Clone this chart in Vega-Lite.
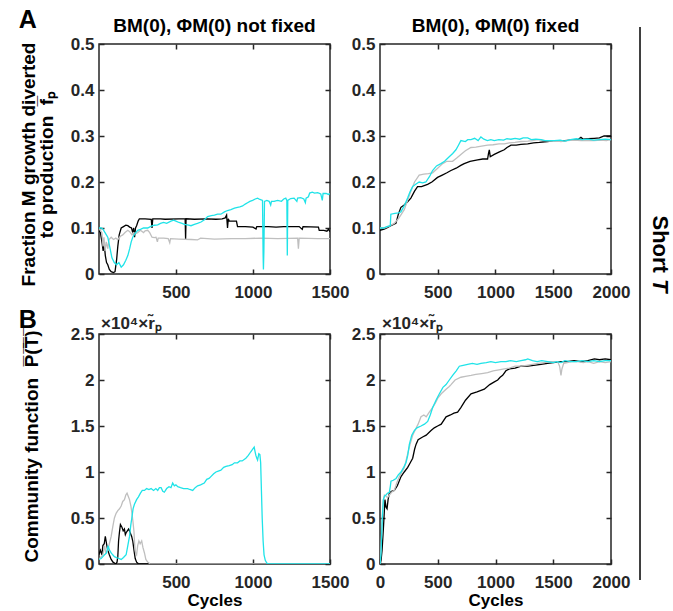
{
"$schema": "https://vega.github.io/schema/vega-lite/v6.json",
"background": "white",
"padding": {"left": 18, "top": 7, "right": 0, "bottom": 0},
"config": {
  "font": "Liberation Sans",
  "view": {"stroke": "#262626", "strokeWidth": 1.5},
  "axis": {"grid": false, "domain": false, "tickColor": "#262626", "tickWidth": 1.5, "tickSize": -5, "labelFont": "Liberation Sans", "labelFontSize": 17, "labelFontWeight": "bold", "labelColor": "#262626", "labelPadding": 10, "titleFont": "Liberation Sans", "titleFontSize": 17, "titleFontWeight": "bold", "titleColor": "#000000", "labelFlush": false, "labelOverlap": false, "labelBound": false},
  "axisX": {"labelPadding": 15}
},
"datasets": {
"tl": [
{"s":"k","x":0,"y":0.095},{"s":"k","x":10,"y":0.09},{"s":"k","x":20,"y":0.07},{"s":"k","x":28,"y":0.05},{"s":"k","x":35,"y":0.065},{"s":"k","x":42,"y":0.04},{"s":"k","x":50,"y":0.025},{"s":"k","x":58,"y":0.02},{"s":"k","x":68,"y":0.01},{"s":"k","x":80,"y":0.005},{"s":"k","x":95,"y":0.003},{"s":"k","x":105,"y":0.005},{"s":"k","x":115,"y":0.03},{"s":"k","x":123,"y":0.06},{"s":"k","x":132,"y":0.085},{"s":"k","x":145,"y":0.1},{"s":"k","x":160,"y":0.103},{"s":"k","x":175,"y":0.106},{"s":"k","x":188,"y":0.105},{"s":"k","x":200,"y":0.102},{"s":"k","x":212,"y":0.1},{"s":"k","x":220,"y":0.09},{"s":"k","x":226,"y":0.1},{"s":"k","x":232,"y":0.08},{"s":"k","x":238,"y":0.1},{"s":"k","x":245,"y":0.105},{"s":"k","x":255,"y":0.115},{"s":"k","x":263,"y":0.12},{"s":"k","x":300,"y":0.12},{"s":"k","x":340,"y":0.119},{"s":"k","x":345,"y":0.1},{"s":"k","x":350,"y":0.12},{"s":"k","x":400,"y":0.12},{"s":"k","x":430,"y":0.119},{"s":"k","x":520,"y":0.12},{"s":"k","x":560,"y":0.12},{"s":"k","x":563,"y":0.075},{"s":"k","x":566,"y":0.12},{"s":"k","x":620,"y":0.119},{"s":"k","x":700,"y":0.12},{"s":"k","x":760,"y":0.119},{"s":"k","x":800,"y":0.12},{"s":"k","x":820,"y":0.122},{"s":"k","x":829,"y":0.128},{"s":"k","x":835,"y":0.1},{"s":"k","x":840,"y":0.12},{"s":"k","x":846,"y":0.115},{"s":"k","x":880,"y":0.115},{"s":"k","x":893,"y":0.115},{"s":"k","x":900,"y":0.103},{"s":"k","x":950,"y":0.103},{"s":"k","x":1000,"y":0.102},{"s":"k","x":1020,"y":0.098},{"s":"k","x":1025,"y":0.103},{"s":"k","x":1100,"y":0.103},{"s":"k","x":1150,"y":0.102},{"s":"k","x":1200,"y":0.103},{"s":"k","x":1300,"y":0.103},{"s":"k","x":1320,"y":0.097},{"s":"k","x":1325,"y":0.103},{"s":"k","x":1425,"y":0.102},{"s":"k","x":1430,"y":0.095},{"s":"k","x":1460,"y":0.095},{"s":"k","x":1480,"y":0.093},{"s":"k","x":1490,"y":0.097},{"s":"k","x":1500,"y":0.092},
{"s":"g","x":0,"y":0.1},{"s":"g","x":10,"y":0.095},{"s":"g","x":20,"y":0.09},{"s":"g","x":27,"y":0.06},{"s":"g","x":33,"y":0.08},{"s":"g","x":40,"y":0.05},{"s":"g","x":48,"y":0.07},{"s":"g","x":58,"y":0.055},{"s":"g","x":66,"y":0.075},{"s":"g","x":80,"y":0.08},{"s":"g","x":95,"y":0.075},{"s":"g","x":110,"y":0.078},{"s":"g","x":123,"y":0.075},{"s":"g","x":140,"y":0.082},{"s":"g","x":155,"y":0.085},{"s":"g","x":170,"y":0.09},{"s":"g","x":188,"y":0.095},{"s":"g","x":200,"y":0.092},{"s":"g","x":215,"y":0.085},{"s":"g","x":225,"y":0.09},{"s":"g","x":240,"y":0.088},{"s":"g","x":252,"y":0.09},{"s":"g","x":270,"y":0.095},{"s":"g","x":290,"y":0.09},{"s":"g","x":300,"y":0.094},{"s":"g","x":317,"y":0.095},{"s":"g","x":330,"y":0.09},{"s":"g","x":345,"y":0.08},{"s":"g","x":360,"y":0.079},{"s":"g","x":371,"y":0.08},{"s":"g","x":380,"y":0.07},{"s":"g","x":385,"y":0.078},{"s":"g","x":420,"y":0.078},{"s":"g","x":450,"y":0.077},{"s":"g","x":460,"y":0.068},{"s":"g","x":465,"y":0.077},{"s":"g","x":520,"y":0.076},{"s":"g","x":600,"y":0.075},{"s":"g","x":640,"y":0.074},{"s":"g","x":660,"y":0.078},{"s":"g","x":750,"y":0.076},{"s":"g","x":860,"y":0.077},{"s":"g","x":950,"y":0.077},{"s":"g","x":1051,"y":0.078},{"s":"g","x":1160,"y":0.077},{"s":"g","x":1290,"y":0.078},{"s":"g","x":1295,"y":0.055},{"s":"g","x":1300,"y":0.078},{"s":"g","x":1420,"y":0.077},{"s":"g","x":1500,"y":0.077},
{"s":"c","x":0,"y":0.1},{"s":"c","x":15,"y":0.1},{"s":"c","x":26,"y":0.098},{"s":"c","x":40,"y":0.09},{"s":"c","x":58,"y":0.08},{"s":"c","x":70,"y":0.06},{"s":"c","x":85,"y":0.035},{"s":"c","x":100,"y":0.025},{"s":"c","x":115,"y":0.02},{"s":"c","x":130,"y":0.025},{"s":"c","x":145,"y":0.015},{"s":"c","x":160,"y":0.02},{"s":"c","x":175,"y":0.03},{"s":"c","x":188,"y":0.04},{"s":"c","x":200,"y":0.055},{"s":"c","x":210,"y":0.07},{"s":"c","x":220,"y":0.08},{"s":"c","x":235,"y":0.088},{"s":"c","x":252,"y":0.095},{"s":"c","x":270,"y":0.097},{"s":"c","x":290,"y":0.1},{"s":"c","x":317,"y":0.1},{"s":"c","x":340,"y":0.104},{"s":"c","x":360,"y":0.106},{"s":"c","x":382,"y":0.107},{"s":"c","x":400,"y":0.11},{"s":"c","x":420,"y":0.112},{"s":"c","x":440,"y":0.11},{"s":"c","x":468,"y":0.115},{"s":"c","x":485,"y":0.117},{"s":"c","x":500,"y":0.115},{"s":"c","x":520,"y":0.112},{"s":"c","x":540,"y":0.11},{"s":"c","x":555,"y":0.108},{"s":"c","x":575,"y":0.107},{"s":"c","x":598,"y":0.105},{"s":"c","x":620,"y":0.108},{"s":"c","x":640,"y":0.11},{"s":"c","x":663,"y":0.113},{"s":"c","x":685,"y":0.118},{"s":"c","x":706,"y":0.125},{"s":"c","x":730,"y":0.127},{"s":"c","x":750,"y":0.128},{"s":"c","x":770,"y":0.13},{"s":"c","x":792,"y":0.13},{"s":"c","x":815,"y":0.135},{"s":"c","x":835,"y":0.138},{"s":"c","x":857,"y":0.14},{"s":"c","x":880,"y":0.143},{"s":"c","x":900,"y":0.145},{"s":"c","x":915,"y":0.146},{"s":"c","x":933,"y":0.148},{"s":"c","x":950,"y":0.152},{"s":"c","x":965,"y":0.155},{"s":"c","x":980,"y":0.158},{"s":"c","x":998,"y":0.16},{"s":"c","x":1015,"y":0.163},{"s":"c","x":1030,"y":0.165},{"s":"c","x":1045,"y":0.162},{"s":"c","x":1062,"y":0.16},{"s":"c","x":1066,"y":0.04},{"s":"c","x":1068,"y":0.01},{"s":"c","x":1071,"y":0.05},{"s":"c","x":1075,"y":0.158},{"s":"c","x":1090,"y":0.16},{"s":"c","x":1105,"y":0.158},{"s":"c","x":1115,"y":0.15},{"s":"c","x":1120,"y":0.158},{"s":"c","x":1137,"y":0.158},{"s":"c","x":1160,"y":0.16},{"s":"c","x":1185,"y":0.158},{"s":"c","x":1200,"y":0.163},{"s":"c","x":1213,"y":0.165},{"s":"c","x":1220,"y":0.16},{"s":"c","x":1223,"y":0.04},{"s":"c","x":1226,"y":0.16},{"s":"c","x":1245,"y":0.164},{"s":"c","x":1267,"y":0.165},{"s":"c","x":1285,"y":0.158},{"s":"c","x":1290,"y":0.165},{"s":"c","x":1310,"y":0.166},{"s":"c","x":1330,"y":0.163},{"s":"c","x":1340,"y":0.155},{"s":"c","x":1345,"y":0.165},{"s":"c","x":1360,"y":0.168},{"s":"c","x":1368,"y":0.176},{"s":"c","x":1385,"y":0.178},{"s":"c","x":1400,"y":0.176},{"s":"c","x":1420,"y":0.177},{"s":"c","x":1440,"y":0.174},{"s":"c","x":1450,"y":0.16},{"s":"c","x":1455,"y":0.175},{"s":"c","x":1475,"y":0.175},{"s":"c","x":1490,"y":0.173},{"s":"c","x":1500,"y":0.175}
],
"tr": [
{"s":"k","x":0,"y":0.095},{"s":"k","x":30,"y":0.097},{"s":"k","x":60,"y":0.1},{"s":"k","x":95,"y":0.105},{"s":"k","x":139,"y":0.11},{"s":"k","x":160,"y":0.13},{"s":"k","x":182,"y":0.145},{"s":"k","x":210,"y":0.15},{"s":"k","x":240,"y":0.157},{"s":"k","x":268,"y":0.165},{"s":"k","x":300,"y":0.18},{"s":"k","x":326,"y":0.19},{"s":"k","x":360,"y":0.19},{"s":"k","x":413,"y":0.195},{"s":"k","x":450,"y":0.2},{"s":"k","x":499,"y":0.21},{"s":"k","x":540,"y":0.215},{"s":"k","x":580,"y":0.22},{"s":"k","x":615,"y":0.225},{"s":"k","x":660,"y":0.23},{"s":"k","x":700,"y":0.236},{"s":"k","x":730,"y":0.24},{"s":"k","x":780,"y":0.245},{"s":"k","x":846,"y":0.248},{"s":"k","x":890,"y":0.25},{"s":"k","x":932,"y":0.25},{"s":"k","x":940,"y":0.262},{"s":"k","x":947,"y":0.27},{"s":"k","x":955,"y":0.255},{"s":"k","x":990,"y":0.26},{"s":"k","x":1030,"y":0.265},{"s":"k","x":1076,"y":0.27},{"s":"k","x":1100,"y":0.275},{"s":"k","x":1134,"y":0.28},{"s":"k","x":1180,"y":0.28},{"s":"k","x":1220,"y":0.282},{"s":"k","x":1279,"y":0.283},{"s":"k","x":1330,"y":0.285},{"s":"k","x":1380,"y":0.286},{"s":"k","x":1452,"y":0.288},{"s":"k","x":1500,"y":0.29},{"s":"k","x":1600,"y":0.29},{"s":"k","x":1650,"y":0.291},{"s":"k","x":1712,"y":0.292},{"s":"k","x":1740,"y":0.297},{"s":"k","x":1760,"y":0.293},{"s":"k","x":1800,"y":0.294},{"s":"k","x":1856,"y":0.295},{"s":"k","x":1900,"y":0.296},{"s":"k","x":1940,"y":0.3},{"s":"k","x":2000,"y":0.3},
{"s":"g","x":0,"y":0.1},{"s":"g","x":40,"y":0.1},{"s":"g","x":80,"y":0.104},{"s":"g","x":124,"y":0.11},{"s":"g","x":160,"y":0.12},{"s":"g","x":211,"y":0.14},{"s":"g","x":240,"y":0.16},{"s":"g","x":268,"y":0.18},{"s":"g","x":300,"y":0.2},{"s":"g","x":340,"y":0.215},{"s":"g","x":380,"y":0.217},{"s":"g","x":420,"y":0.218},{"s":"g","x":456,"y":0.22},{"s":"g","x":500,"y":0.23},{"s":"g","x":543,"y":0.24},{"s":"g","x":580,"y":0.245},{"s":"g","x":629,"y":0.245},{"s":"g","x":665,"y":0.252},{"s":"g","x":701,"y":0.26},{"s":"g","x":740,"y":0.268},{"s":"g","x":788,"y":0.275},{"s":"g","x":830,"y":0.276},{"s":"g","x":880,"y":0.278},{"s":"g","x":932,"y":0.28},{"s":"g","x":980,"y":0.281},{"s":"g","x":1030,"y":0.283},{"s":"g","x":1076,"y":0.283},{"s":"g","x":1120,"y":0.285},{"s":"g","x":1170,"y":0.286},{"s":"g","x":1221,"y":0.288},{"s":"g","x":1280,"y":0.289},{"s":"g","x":1320,"y":0.29},{"s":"g","x":1365,"y":0.292},{"s":"g","x":1420,"y":0.29},{"s":"g","x":1470,"y":0.289},{"s":"g","x":1520,"y":0.29},{"s":"g","x":1567,"y":0.288},{"s":"g","x":1620,"y":0.29},{"s":"g","x":1680,"y":0.291},{"s":"g","x":1740,"y":0.29},{"s":"g","x":1856,"y":0.29},{"s":"g","x":1910,"y":0.291},{"s":"g","x":1960,"y":0.29},{"s":"g","x":2000,"y":0.292},
{"s":"c","x":0,"y":0.1},{"s":"c","x":30,"y":0.1},{"s":"c","x":60,"y":0.103},{"s":"c","x":90,"y":0.105},{"s":"c","x":95,"y":0.13},{"s":"c","x":130,"y":0.132},{"s":"c","x":160,"y":0.133},{"s":"c","x":182,"y":0.135},{"s":"c","x":210,"y":0.148},{"s":"c","x":240,"y":0.165},{"s":"c","x":260,"y":0.178},{"s":"c","x":283,"y":0.19},{"s":"c","x":310,"y":0.195},{"s":"c","x":340,"y":0.2},{"s":"c","x":370,"y":0.198},{"s":"c","x":398,"y":0.2},{"s":"c","x":430,"y":0.212},{"s":"c","x":456,"y":0.225},{"s":"c","x":490,"y":0.235},{"s":"c","x":528,"y":0.24},{"s":"c","x":560,"y":0.245},{"s":"c","x":600,"y":0.255},{"s":"c","x":630,"y":0.262},{"s":"c","x":658,"y":0.27},{"s":"c","x":680,"y":0.28},{"s":"c","x":701,"y":0.29},{"s":"c","x":740,"y":0.288},{"s":"c","x":760,"y":0.292},{"s":"c","x":788,"y":0.292},{"s":"c","x":820,"y":0.295},{"s":"c","x":850,"y":0.29},{"s":"c","x":874,"y":0.298},{"s":"c","x":900,"y":0.293},{"s":"c","x":930,"y":0.29},{"s":"c","x":960,"y":0.292},{"s":"c","x":990,"y":0.29},{"s":"c","x":1030,"y":0.292},{"s":"c","x":1070,"y":0.291},{"s":"c","x":1100,"y":0.294},{"s":"c","x":1134,"y":0.293},{"s":"c","x":1170,"y":0.295},{"s":"c","x":1210,"y":0.293},{"s":"c","x":1240,"y":0.296},{"s":"c","x":1279,"y":0.296},{"s":"c","x":1310,"y":0.292},{"s":"c","x":1350,"y":0.293},{"s":"c","x":1394,"y":0.292},{"s":"c","x":1430,"y":0.29},{"s":"c","x":1509,"y":0.29},{"s":"c","x":1560,"y":0.291},{"s":"c","x":1600,"y":0.289},{"s":"c","x":1650,"y":0.292},{"s":"c","x":1700,"y":0.294},{"s":"c","x":1750,"y":0.292},{"s":"c","x":1800,"y":0.293},{"s":"c","x":1850,"y":0.291},{"s":"c","x":1900,"y":0.292},{"s":"c","x":1950,"y":0.293},{"s":"c","x":2000,"y":0.292}
],
"bl": [
{"s":"k","x":0,"y":0.1},{"s":"k","x":10,"y":0.15},{"s":"k","x":20,"y":0.1},{"s":"k","x":26,"y":0.2},{"s":"k","x":35,"y":0.22},{"s":"k","x":42,"y":0.3},{"s":"k","x":47,"y":0.25},{"s":"k","x":52,"y":0.2},{"s":"k","x":58,"y":0.15},{"s":"k","x":68,"y":0.1},{"s":"k","x":80,"y":0.05},{"s":"k","x":92,"y":0.02},{"s":"k","x":101,"y":0.01},{"s":"k","x":110,"y":0},{"s":"k","x":118,"y":0.02},{"s":"k","x":123,"y":0.08},{"s":"k","x":128,"y":0.25},{"s":"k","x":134,"y":0.35},{"s":"k","x":140,"y":0.43},{"s":"k","x":150,"y":0.4},{"s":"k","x":158,"y":0.36},{"s":"k","x":166,"y":0.38},{"s":"k","x":172,"y":0.32},{"s":"k","x":177,"y":0.34},{"s":"k","x":185,"y":0.36},{"s":"k","x":193,"y":0.38},{"s":"k","x":199,"y":0.36},{"s":"k","x":206,"y":0.33},{"s":"k","x":213,"y":0.3},{"s":"k","x":220,"y":0.25},{"s":"k","x":228,"y":0.15},{"s":"k","x":236,"y":0.06},{"s":"k","x":245,"y":0.02},{"s":"k","x":255,"y":0.005},{"s":"k","x":275,"y":0},{"s":"k","x":800,"y":0},{"s":"k","x":1500,"y":0},
{"s":"g","x":0,"y":0.05},{"s":"g","x":15,"y":0.08},{"s":"g","x":26,"y":0.1},{"s":"g","x":37,"y":0.2},{"s":"g","x":45,"y":0.12},{"s":"g","x":58,"y":0.15},{"s":"g","x":68,"y":0.22},{"s":"g","x":80,"y":0.3},{"s":"g","x":90,"y":0.4},{"s":"g","x":101,"y":0.5},{"s":"g","x":112,"y":0.55},{"s":"g","x":123,"y":0.58},{"s":"g","x":134,"y":0.6},{"s":"g","x":145,"y":0.63},{"s":"g","x":155,"y":0.68},{"s":"g","x":166,"y":0.7},{"s":"g","x":175,"y":0.75},{"s":"g","x":183,"y":0.77},{"s":"g","x":190,"y":0.74},{"s":"g","x":199,"y":0.7},{"s":"g","x":208,"y":0.63},{"s":"g","x":215,"y":0.55},{"s":"g","x":222,"y":0.45},{"s":"g","x":228,"y":0.35},{"s":"g","x":233,"y":0.2},{"s":"g","x":238,"y":0.12},{"s":"g","x":245,"y":0.1},{"s":"g","x":252,"y":0.2},{"s":"g","x":260,"y":0.25},{"s":"g","x":268,"y":0.22},{"s":"g","x":278,"y":0.25},{"s":"g","x":286,"y":0.18},{"s":"g","x":296,"y":0.12},{"s":"g","x":305,"y":0.05},{"s":"g","x":317,"y":0.02},{"s":"g","x":330,"y":0.005},{"s":"g","x":345,"y":0},{"s":"g","x":1000,"y":0},{"s":"g","x":1500,"y":0},
{"s":"c","x":0,"y":0.05},{"s":"c","x":15,"y":0.06},{"s":"c","x":26,"y":0.08},{"s":"c","x":37,"y":0.1},{"s":"c","x":50,"y":0.12},{"s":"c","x":60,"y":0.2},{"s":"c","x":69,"y":0.15},{"s":"c","x":80,"y":0.12},{"s":"c","x":90,"y":0.1},{"s":"c","x":101,"y":0.08},{"s":"c","x":115,"y":0.07},{"s":"c","x":130,"y":0.06},{"s":"c","x":145,"y":0.05},{"s":"c","x":160,"y":0.07},{"s":"c","x":177,"y":0.1},{"s":"c","x":188,"y":0.2},{"s":"c","x":199,"y":0.3},{"s":"c","x":207,"y":0.42},{"s":"c","x":214,"y":0.5},{"s":"c","x":222,"y":0.6},{"s":"c","x":231,"y":0.65},{"s":"c","x":245,"y":0.7},{"s":"c","x":257,"y":0.73},{"s":"c","x":270,"y":0.77},{"s":"c","x":282,"y":0.8},{"s":"c","x":296,"y":0.8},{"s":"c","x":310,"y":0.82},{"s":"c","x":325,"y":0.81},{"s":"c","x":339,"y":0.82},{"s":"c","x":355,"y":0.8},{"s":"c","x":370,"y":0.82},{"s":"c","x":382,"y":0.8},{"s":"c","x":393,"y":0.83},{"s":"c","x":404,"y":0.83},{"s":"c","x":415,"y":0.79},{"s":"c","x":425,"y":0.78},{"s":"c","x":440,"y":0.82},{"s":"c","x":455,"y":0.84},{"s":"c","x":468,"y":0.83},{"s":"c","x":479,"y":0.88},{"s":"c","x":490,"y":0.85},{"s":"c","x":500,"y":0.86},{"s":"c","x":512,"y":0.84},{"s":"c","x":530,"y":0.83},{"s":"c","x":550,"y":0.82},{"s":"c","x":576,"y":0.82},{"s":"c","x":590,"y":0.81},{"s":"c","x":609,"y":0.8},{"s":"c","x":625,"y":0.83},{"s":"c","x":641,"y":0.85},{"s":"c","x":660,"y":0.86},{"s":"c","x":684,"y":0.88},{"s":"c","x":700,"y":0.92},{"s":"c","x":715,"y":0.93},{"s":"c","x":727,"y":0.95},{"s":"c","x":745,"y":0.98},{"s":"c","x":760,"y":1.0},{"s":"c","x":775,"y":1.01},{"s":"c","x":792,"y":1.02},{"s":"c","x":810,"y":1.05},{"s":"c","x":825,"y":1.06},{"s":"c","x":846,"y":1.07},{"s":"c","x":865,"y":1.08},{"s":"c","x":880,"y":1.1},{"s":"c","x":900,"y":1.1},{"s":"c","x":915,"y":1.12},{"s":"c","x":930,"y":1.12},{"s":"c","x":954,"y":1.15},{"s":"c","x":970,"y":1.18},{"s":"c","x":986,"y":1.22},{"s":"c","x":995,"y":1.24},{"s":"c","x":1008,"y":1.27},{"s":"c","x":1014,"y":1.22},{"s":"c","x":1019,"y":1.18},{"s":"c","x":1025,"y":1.15},{"s":"c","x":1030,"y":1.13},{"s":"c","x":1038,"y":1.2},{"s":"c","x":1045,"y":1.19},{"s":"c","x":1050,"y":1.1},{"s":"c","x":1055,"y":0.8},{"s":"c","x":1060,"y":0.5},{"s":"c","x":1066,"y":0.25},{"s":"c","x":1072,"y":0.1},{"s":"c","x":1080,"y":0.04},{"s":"c","x":1090,"y":0.01},{"s":"c","x":1100,"y":0},{"s":"c","x":1500,"y":0}
],
"br": [
{"s":"k","x":0,"y":0},{"s":"k","x":10,"y":0.05},{"s":"k","x":18,"y":0.15},{"s":"k","x":30,"y":0.4},{"s":"k","x":43,"y":0.7},{"s":"k","x":52,"y":0.62},{"s":"k","x":61,"y":0.6},{"s":"k","x":70,"y":0.7},{"s":"k","x":81,"y":0.77},{"s":"k","x":100,"y":0.79},{"s":"k","x":124,"y":0.8},{"s":"k","x":150,"y":0.85},{"s":"k","x":182,"y":0.95},{"s":"k","x":210,"y":1.0},{"s":"k","x":240,"y":1.05},{"s":"k","x":262,"y":1.1},{"s":"k","x":283,"y":1.15},{"s":"k","x":300,"y":1.25},{"s":"k","x":312,"y":1.3},{"s":"k","x":330,"y":1.35},{"s":"k","x":369,"y":1.38},{"s":"k","x":400,"y":1.4},{"s":"k","x":442,"y":1.45},{"s":"k","x":470,"y":1.48},{"s":"k","x":499,"y":1.5},{"s":"k","x":530,"y":1.52},{"s":"k","x":572,"y":1.6},{"s":"k","x":610,"y":1.62},{"s":"k","x":640,"y":1.64},{"s":"k","x":672,"y":1.65},{"s":"k","x":700,"y":1.7},{"s":"k","x":740,"y":1.78},{"s":"k","x":788,"y":1.85},{"s":"k","x":840,"y":1.87},{"s":"k","x":903,"y":1.9},{"s":"k","x":950,"y":1.95},{"s":"k","x":990,"y":1.98},{"s":"k","x":1019,"y":2.0},{"s":"k","x":1040,"y":2.03},{"s":"k","x":1062,"y":2.05},{"s":"k","x":1090,"y":2.1},{"s":"k","x":1120,"y":2.12},{"s":"k","x":1170,"y":2.13},{"s":"k","x":1221,"y":2.15},{"s":"k","x":1280,"y":2.15},{"s":"k","x":1330,"y":2.16},{"s":"k","x":1394,"y":2.17},{"s":"k","x":1450,"y":2.18},{"s":"k","x":1500,"y":2.19},{"s":"k","x":1567,"y":2.2},{"s":"k","x":1620,"y":2.2},{"s":"k","x":1680,"y":2.21},{"s":"k","x":1740,"y":2.2},{"s":"k","x":1800,"y":2.21},{"s":"k","x":1856,"y":2.23},{"s":"k","x":1900,"y":2.22},{"s":"k","x":1950,"y":2.23},{"s":"k","x":2000,"y":2.22},
{"s":"g","x":0,"y":0},{"s":"g","x":10,"y":0.2},{"s":"g","x":18,"y":0.45},{"s":"g","x":23,"y":0.6},{"s":"g","x":30,"y":0.7},{"s":"g","x":38,"y":0.75},{"s":"g","x":50,"y":0.74},{"s":"g","x":65,"y":0.72},{"s":"g","x":81,"y":0.75},{"s":"g","x":100,"y":0.78},{"s":"g","x":124,"y":0.8},{"s":"g","x":145,"y":0.88},{"s":"g","x":168,"y":0.95},{"s":"g","x":190,"y":1.0},{"s":"g","x":211,"y":1.05},{"s":"g","x":225,"y":1.12},{"s":"g","x":240,"y":1.2},{"s":"g","x":260,"y":1.3},{"s":"g","x":283,"y":1.4},{"s":"g","x":310,"y":1.47},{"s":"g","x":330,"y":1.52},{"s":"g","x":355,"y":1.6},{"s":"g","x":380,"y":1.62},{"s":"g","x":400,"y":1.6},{"s":"g","x":427,"y":1.65},{"s":"g","x":455,"y":1.7},{"s":"g","x":480,"y":1.75},{"s":"g","x":499,"y":1.8},{"s":"g","x":530,"y":1.85},{"s":"g","x":572,"y":1.9},{"s":"g","x":600,"y":1.93},{"s":"g","x":615,"y":1.95},{"s":"g","x":650,"y":2.0},{"s":"g","x":701,"y":2.03},{"s":"g","x":740,"y":2.04},{"s":"g","x":788,"y":2.05},{"s":"g","x":830,"y":2.06},{"s":"g","x":880,"y":2.07},{"s":"g","x":932,"y":2.08},{"s":"g","x":980,"y":2.1},{"s":"g","x":1030,"y":2.11},{"s":"g","x":1076,"y":2.12},{"s":"g","x":1120,"y":2.13},{"s":"g","x":1170,"y":2.15},{"s":"g","x":1221,"y":2.15},{"s":"g","x":1270,"y":2.16},{"s":"g","x":1320,"y":2.17},{"s":"g","x":1365,"y":2.18},{"s":"g","x":1420,"y":2.19},{"s":"g","x":1480,"y":2.2},{"s":"g","x":1538,"y":2.2},{"s":"g","x":1555,"y":2.15},{"s":"g","x":1567,"y":2.05},{"s":"g","x":1575,"y":2.12},{"s":"g","x":1590,"y":2.18},{"s":"g","x":1620,"y":2.19},{"s":"g","x":1660,"y":2.2},{"s":"g","x":1712,"y":2.2},{"s":"g","x":1760,"y":2.19},{"s":"g","x":1800,"y":2.2},{"s":"g","x":1850,"y":2.18},{"s":"g","x":1900,"y":2.2},{"s":"g","x":1950,"y":2.19},{"s":"g","x":2000,"y":2.2},
{"s":"c","x":0,"y":0},{"s":"c","x":8,"y":0.1},{"s":"c","x":14,"y":0.3},{"s":"c","x":20,"y":0.5},{"s":"c","x":29,"y":0.7},{"s":"c","x":40,"y":0.74},{"s":"c","x":52,"y":0.75},{"s":"c","x":65,"y":0.77},{"s":"c","x":81,"y":0.78},{"s":"c","x":90,"y":0.85},{"s":"c","x":95,"y":0.9},{"s":"c","x":115,"y":0.91},{"s":"c","x":139,"y":0.93},{"s":"c","x":160,"y":0.97},{"s":"c","x":182,"y":1.0},{"s":"c","x":205,"y":1.05},{"s":"c","x":225,"y":1.1},{"s":"c","x":240,"y":1.18},{"s":"c","x":254,"y":1.3},{"s":"c","x":275,"y":1.4},{"s":"c","x":297,"y":1.45},{"s":"c","x":320,"y":1.48},{"s":"c","x":355,"y":1.5},{"s":"c","x":385,"y":1.52},{"s":"c","x":413,"y":1.55},{"s":"c","x":435,"y":1.62},{"s":"c","x":456,"y":1.7},{"s":"c","x":485,"y":1.78},{"s":"c","x":514,"y":1.85},{"s":"c","x":545,"y":1.92},{"s":"c","x":572,"y":1.95},{"s":"c","x":600,"y":2.0},{"s":"c","x":629,"y":2.05},{"s":"c","x":660,"y":2.1},{"s":"c","x":687,"y":2.15},{"s":"c","x":720,"y":2.16},{"s":"c","x":759,"y":2.17},{"s":"c","x":800,"y":2.18},{"s":"c","x":840,"y":2.17},{"s":"c","x":874,"y":2.18},{"s":"c","x":920,"y":2.19},{"s":"c","x":960,"y":2.2},{"s":"c","x":1000,"y":2.19},{"s":"c","x":1047,"y":2.2},{"s":"c","x":1090,"y":2.2},{"s":"c","x":1130,"y":2.21},{"s":"c","x":1180,"y":2.2},{"s":"c","x":1221,"y":2.21},{"s":"c","x":1260,"y":2.22},{"s":"c","x":1279,"y":2.23},{"s":"c","x":1320,"y":2.21},{"s":"c","x":1360,"y":2.2},{"s":"c","x":1400,"y":2.21},{"s":"c","x":1452,"y":2.2},{"s":"c","x":1500,"y":2.19},{"s":"c","x":1530,"y":2.2},{"s":"c","x":1567,"y":2.19},{"s":"c","x":1600,"y":2.21},{"s":"c","x":1650,"y":2.2},{"s":"c","x":1700,"y":2.2},{"s":"c","x":1750,"y":2.21},{"s":"c","x":1800,"y":2.2},{"s":"c","x":1850,"y":2.21},{"s":"c","x":1900,"y":2.2},{"s":"c","x":1950,"y":2.21},{"s":"c","x":2000,"y":2.21}
]
},
"bounds": "flush",
"columns": 2,
"spacing": {"row": 60, "column": 50},
"concat": [
 {"width": 231, "height": 230,
  "resolve": {"axis": {"x": "independent", "y": "independent"}},
  "layer": [
   {"data": {"name": "tl"}, "mark": {"type": "line", "strokeWidth": 1.3, "clip": true},
    "encoding": {
     "x": {"field": "x", "type": "quantitative", "scale": {"domain": [1, 1500], "nice": false, "zero": false}, "axis": {"values": [500, 1000, 1500], "format": "d", "title": null}},
     "y": {"field": "y", "type": "quantitative", "scale": {"domain": [0, 0.5], "nice": false}, "axis": {"values": [0, 0.1, 0.2, 0.3, 0.4, 0.5], "format": "~g", "title": ["Fraction M growth diverted", "\u00a0\u00a0\u00a0\u00a0\u00a0\u00a0\u00a0\u00a0\u00a0\u00a0\u00a0\u00a0\u00a0\u00a0\u00a0\u00a0\u00a0\u00a0to production\u00a0\u00a0f̅ₚ"], "titleFontSize": 19, "titleAngle": -90, "titleX": -71, "titleY": 120, "titleBaseline": "middle", "titleAlign": "center", "titleLineHeight": 18}},
     "color": {"field": "s", "type": "nominal", "scale": {"domain": ["k", "g", "c"], "range": ["#000000", "#bfbfbf", "#1fe3e8"]}, "legend": null}
    }},
   {"data": {"name": "tl"}, "mark": {"type": "line", "opacity": 0},
    "encoding": {
     "x": {"field": "x", "type": "quantitative", "scale": {"domain": [1, 1500], "nice": false, "zero": false}, "axis": {"orient": "top", "values": [500, 1000, 1500], "labels": false, "title": null}},
     "y": {"field": "y", "type": "quantitative", "scale": {"domain": [0, 0.5], "nice": false}, "axis": {"orient": "right", "values": [0, 0.1, 0.2, 0.3, 0.4, 0.5], "labels": false, "title": null}}
    }},
   {"data": {"values": [{"t": "A"}]}, "mark": {"type": "text", "fontSize": 25, "fontWeight": "bold", "align": "center", "baseline": "middle", "color": "#000000"},
    "encoding": {
     "x": {"datum": -461, "type": "quantitative", "scale": {"domain": [1, 1500], "nice": false, "zero": false}, "axis": null},
     "y": {"datum": 0.552, "type": "quantitative", "scale": {"domain": [0, 0.5], "nice": false}, "axis": null},
     "text": {"field": "t"}
    }},
   {"data": {"values": [{"t": "BM(0), ΦM(0) not fixed"}]}, "mark": {"type": "text", "fontSize": 19, "fontWeight": "bold", "align": "center", "baseline": "alphabetic", "color": "#000000"},
    "encoding": {
     "x": {"datum": 750.5, "type": "quantitative", "scale": {"domain": [1, 1500], "nice": false, "zero": false}, "axis": null},
     "y": {"datum": 0.527, "type": "quantitative", "scale": {"domain": [0, 0.5], "nice": false}, "axis": null},
     "text": {"field": "t"}
    }}
  ]},
 {"width": 231, "height": 230,
  "resolve": {"axis": {"x": "independent", "y": "independent"}},
  "layer": [
   {"data": {"name": "tr"}, "mark": {"type": "line", "strokeWidth": 1.3, "clip": true},
    "encoding": {
     "x": {"field": "x", "type": "quantitative", "scale": {"domain": [1, 2000], "nice": false, "zero": false}, "axis": {"values": [500, 1000, 1500, 2000], "format": "d", "title": null}},
     "y": {"field": "y", "type": "quantitative", "scale": {"domain": [0, 0.5], "nice": false}, "axis": {"values": [0, 0.1, 0.2, 0.3, 0.4, 0.5], "format": "~g", "title": null}},
     "color": {"field": "s", "type": "nominal", "scale": {"domain": ["k", "g", "c"], "range": ["#000000", "#bfbfbf", "#1fe3e8"]}, "legend": null}
    }},
   {"data": {"name": "tr"}, "mark": {"type": "line", "opacity": 0},
    "encoding": {
     "x": {"field": "x", "type": "quantitative", "scale": {"domain": [1, 2000], "nice": false, "zero": false}, "axis": {"orient": "top", "values": [500, 1000, 1500, 2000], "labels": false, "title": null}},
     "y": {"field": "y", "type": "quantitative", "scale": {"domain": [0, 0.5], "nice": false}, "axis": {"orient": "right", "values": [0, 0.1, 0.2, 0.3, 0.4, 0.5], "labels": false, "title": null}}
    }},
   {"data": {"values": [{"t": "BM(0), ΦM(0) fixed"}]}, "mark": {"type": "text", "fontSize": 19, "fontWeight": "bold", "align": "center", "baseline": "alphabetic", "color": "#000000"},
    "encoding": {
     "x": {"datum": 1000.5, "type": "quantitative", "scale": {"domain": [1, 2000], "nice": false, "zero": false}, "axis": null},
     "y": {"datum": 0.527, "type": "quantitative", "scale": {"domain": [0, 0.5], "nice": false}, "axis": null},
     "text": {"field": "t"}
    }},
   {"data": {"values": [{"t": "rule"}]}, "mark": {"type": "rule", "color": "#000000", "strokeWidth": 1.5},
    "encoding": {
     "x": {"datum": 2251, "type": "quantitative", "scale": {"domain": [1, 2000], "nice": false, "zero": false}, "axis": null},
     "y": {"datum": 0.537, "type": "quantitative", "scale": {"domain": [0, 0.5], "nice": false}, "axis": null},
     "y2": {"datum": -0.665}
    }},
   {"data": {"values": [{"t": "Short"}]}, "mark": {"type": "text", "fontSize": 22, "fontWeight": "bold", "align": "center", "baseline": "middle", "angle": 90, "color": "#000000"},
    "encoding": {
     "x": {"datum": 2424, "type": "quantitative", "scale": {"domain": [1, 2000], "nice": false, "zero": false}, "axis": null},
     "y": {"datum": 0.0648, "type": "quantitative", "scale": {"domain": [0, 0.5], "nice": false}, "axis": null},
     "text": {"field": "t"}
    }},
   {"data": {"values": [{"t": "T"}]}, "mark": {"type": "text", "fontSize": 22, "fontWeight": "bold", "fontStyle": "italic", "align": "center", "baseline": "middle", "angle": 90, "color": "#000000"},
    "encoding": {
     "x": {"datum": 2424, "type": "quantitative", "scale": {"domain": [1, 2000], "nice": false, "zero": false}, "axis": null},
     "y": {"datum": -0.0254, "type": "quantitative", "scale": {"domain": [0, 0.5], "nice": false}, "axis": null},
     "text": {"field": "t"}
    }}
  ]},
 {"width": 231, "height": 230,
  "resolve": {"axis": {"x": "independent", "y": "independent"}},
  "layer": [
   {"data": {"name": "bl"}, "mark": {"type": "line", "strokeWidth": 1.3, "clip": true},
    "encoding": {
     "x": {"field": "x", "type": "quantitative", "scale": {"domain": [1, 1500], "nice": false, "zero": false}, "axis": {"values": [500, 1000, 1500], "format": "d", "title": "Cycles", "titlePadding": 2}},
     "y": {"field": "y", "type": "quantitative", "scale": {"domain": [0, 2.5], "nice": false}, "axis": {"values": [0, 0.5, 1, 1.5, 2, 2.5], "format": "~g", "title": "Community function\u00a0\u00a0P̅(̅T̅)̅", "titleFontSize": 19, "titleAngle": -90, "titleX": -68, "titleY": 112, "titleBaseline": "middle", "titleAlign": "center"}},
     "color": {"field": "s", "type": "nominal", "scale": {"domain": ["k", "g", "c"], "range": ["#000000", "#bfbfbf", "#1fe3e8"]}, "legend": null}
    }},
   {"data": {"name": "bl"}, "mark": {"type": "line", "opacity": 0},
    "encoding": {
     "x": {"field": "x", "type": "quantitative", "scale": {"domain": [1, 1500], "nice": false, "zero": false}, "axis": {"orient": "top", "values": [500, 1000, 1500], "labels": false, "title": null}},
     "y": {"field": "y", "type": "quantitative", "scale": {"domain": [0, 2.5], "nice": false}, "axis": {"orient": "right", "values": [0, 0.5, 1, 1.5, 2, 2.5], "labels": false, "title": null}}
    }},
   {"data": {"values": [{"t": "B"}]}, "mark": {"type": "text", "fontSize": 25, "fontWeight": "bold", "align": "center", "baseline": "middle", "color": "#000000"},
    "encoding": {
     "x": {"datum": -461, "type": "quantitative", "scale": {"domain": [1, 1500], "nice": false, "zero": false}, "axis": null},
     "y": {"datum": 2.652, "type": "quantitative", "scale": {"domain": [0, 2.5], "nice": false}, "axis": null},
     "text": {"field": "t"}
    }},
   {"data": {"values": [{"t": "×10⁴×r̃ₚ"}]}, "mark": {"type": "text", "fontSize": 17, "fontWeight": "bold", "align": "left", "baseline": "alphabetic", "dx": 2, "dy": -5, "color": "#262626"},
    "encoding": {
     "x": {"datum": 1, "type": "quantitative", "scale": {"domain": [1, 1500], "nice": false, "zero": false}, "axis": null},
     "y": {"datum": 2.5, "type": "quantitative", "scale": {"domain": [0, 2.5], "nice": false}, "axis": null},
     "text": {"field": "t"}
    }}
  ]},
 {"width": 231, "height": 230,
  "resolve": {"axis": {"x": "independent", "y": "independent"}},
  "layer": [
   {"data": {"name": "br"}, "mark": {"type": "line", "strokeWidth": 1.3, "clip": true},
    "encoding": {
     "x": {"field": "x", "type": "quantitative", "scale": {"domain": [0, 2000], "nice": false, "zero": false}, "axis": {"values": [0, 500, 1000, 1500, 2000], "format": "d", "title": "Cycles", "titlePadding": 2}},
     "y": {"field": "y", "type": "quantitative", "scale": {"domain": [0, 2.5], "nice": false}, "axis": {"values": [0, 0.5, 1, 1.5, 2, 2.5], "format": "~g", "title": null}},
     "color": {"field": "s", "type": "nominal", "scale": {"domain": ["k", "g", "c"], "range": ["#000000", "#bfbfbf", "#1fe3e8"]}, "legend": null}
    }},
   {"data": {"name": "br"}, "mark": {"type": "line", "opacity": 0},
    "encoding": {
     "x": {"field": "x", "type": "quantitative", "scale": {"domain": [0, 2000], "nice": false, "zero": false}, "axis": {"orient": "top", "values": [0, 500, 1000, 1500, 2000], "labels": false, "title": null}},
     "y": {"field": "y", "type": "quantitative", "scale": {"domain": [0, 2.5], "nice": false}, "axis": {"orient": "right", "values": [0, 0.5, 1, 1.5, 2, 2.5], "labels": false, "title": null}}
    }},
   {"data": {"values": [{"t": "×10⁴×r̃ₚ"}]}, "mark": {"type": "text", "fontSize": 17, "fontWeight": "bold", "align": "left", "baseline": "alphabetic", "dx": 2, "dy": -5, "color": "#262626"},
    "encoding": {
     "x": {"datum": 0, "type": "quantitative", "scale": {"domain": [0, 2000], "nice": false, "zero": false}, "axis": null},
     "y": {"datum": 2.5, "type": "quantitative", "scale": {"domain": [0, 2.5], "nice": false}, "axis": null},
     "text": {"field": "t"}
    }}
  ]}
]
}
